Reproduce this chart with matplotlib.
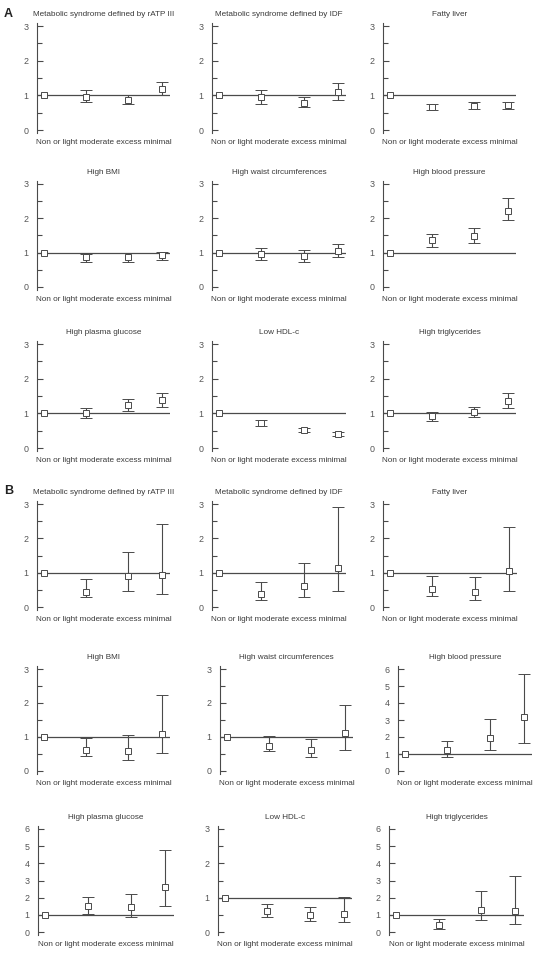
import numpy as np
import matplotlib.pyplot as plt
from matplotlib.ticker import MultipleLocator

plt.rcParams['font.family'] = ['Liberation Sans', 'DejaVu Sans']

categories = ["Non or light", "moderate", "excess", "minimal"]
titles = ["Metabolic syndrome defined by rATP III", "Metabolic syndrome defined by IDF",
          "Fatty liver", "High BMI", "High waist circumferences", "High blood pressure",
          "High plasma glucose", "Low HDL-c", "High triglycerides"]

# panel A: odds ratio and 95% CI, one row per outcome
a_or = [[1.0, 0.95, 0.87, 1.18], [1.0, 0.94, 0.77, 1.09], [1.0, 0.66, 0.69, 0.71],
        [1.0, 0.87, 0.87, 0.93], [1.0, 0.95, 0.90, 1.06], [1.0, 1.38, 1.49, 2.22],
        [1.0, 1.00, 1.24, 1.39], [1.0, 0.72, 0.52, 0.40], [1.0, 0.91, 1.03, 1.35]]
a_lo = [[1.0, 0.81, 0.74, 1.01], [1.0, 0.75, 0.66, 0.87], [1.0, 0.58, 0.60, 0.62],
        [1.0, 0.72, 0.73, 0.80], [1.0, 0.79, 0.73, 0.88], [1.0, 1.16, 1.28, 1.94],
        [1.0, 0.87, 1.08, 1.19], [1.0, 0.63, 0.45, 0.34], [1.0, 0.77, 0.88, 1.15]]
a_hi = [[1.0, 1.15, 1.00, 1.39], [1.0, 1.16, 0.96, 1.35], [1.0, 0.76, 0.80, 0.80],
        [1.0, 0.96, 0.98, 1.03], [1.0, 1.14, 1.08, 1.26], [1.0, 1.55, 1.71, 2.59],
        [1.0, 1.15, 1.41, 1.59], [1.0, 0.81, 0.59, 0.47], [1.0, 1.05, 1.18, 1.59]]

# panel B
b_or = [[1.0, 0.45, 0.89, 0.92], [1.0, 0.37, 0.62, 1.15], [1.0, 0.53, 0.44, 1.04],
        [1.0, 0.63, 0.59, 1.08], [1.0, 0.75, 0.62, 1.11], [1.0, 1.25, 1.94, 3.15],
        [1.0, 1.50, 1.46, 2.65], [1.0, 0.62, 0.50, 0.52], [1.0, 0.39, 1.31, 1.23]]
b_lo = [[1.0, 0.28, 0.48, 0.37], [1.0, 0.21, 0.30, 0.46], [1.0, 0.32, 0.21, 0.46],
        [1.0, 0.44, 0.31, 0.54], [1.0, 0.58, 0.41, 0.62], [1.0, 0.81, 1.23, 1.64],
        [1.0, 1.05, 0.90, 1.52], [1.0, 0.44, 0.33, 0.30], [1.0, 0.16, 0.70, 0.47]]
b_hi = [[1.0, 0.82, 1.61, 2.43], [1.0, 0.73, 1.28, 2.91], [1.0, 0.89, 0.88, 2.32],
        [1.0, 0.96, 1.06, 2.25], [1.0, 1.04, 0.95, 1.94], [1.0, 1.76, 3.07, 5.68],
        [1.0, 2.05, 2.22, 4.80], [1.0, 0.82, 0.72, 1.02], [1.0, 0.76, 2.36, 3.25]]
b_ymax = [3, 3, 3, 3, 3, 6, 6, 3, 6]

W, H = 551, 960
xpos = [0, 1, 2, 2.8]
line_c = '#4a4a4a'
text_c = '#3a3a3a'

# pixel layout: (spine x, line end x) per column, (tick top y, tick 0 y) per row
a_cols = [[(37, 170), (212, 346), (383, 516)]] * 3
a_rows = [(26, 130), (184, 287), (344, 448)]
b_cols = [[(37, 170), (212, 346), (383, 517)],
          [(37, 170), (220, 353), (398, 532)],
          [(38, 174), (218, 352), (389, 524)]]
b_rows = [(504, 607), (669, 771), (829, 932)]

fig = plt.figure(figsize=(W / 100, H / 100), dpi=100)


def panel(xl, xr, yt, y0, top, title, ors, los, his):
    pad = 0.03 * top
    ppu = (y0 - yt) / top
    bot_px = y0 + pad * ppu
    top_px = yt - pad * ppu
    ax = fig.add_axes([xl / W, 1 - bot_px / H, (xr - xl) / W, (bot_px - top_px) / H])
    ax.set_xlim(-0.16, 3.0)
    ax.set_ylim(-pad, top + pad)
    for s in ['top', 'right', 'bottom']:
        ax.spines[s].set_visible(False)
    ax.spines['left'].set_color(line_c)
    ax.spines['left'].set_linewidth(0.8)
    ax.set_xticks([])
    ax.yaxis.set_major_locator(MultipleLocator(1))
    if top == 3:
        ax.yaxis.set_minor_locator(MultipleLocator(0.5))
    ax.tick_params(axis='y', which='both', direction='in', color=line_c, width=0.8,
                   labelsize=6.4, labelcolor='#555555', pad=6)
    ax.tick_params(axis='y', which='major', length=4)
    ax.tick_params(axis='y', which='minor', length=3.5)
    ax.axhline(1, color=line_c, lw=0.9, zorder=1)
    ors = np.array(ors)
    yerr = np.vstack([ors - np.array(los), np.array(his) - ors])
    ax.errorbar(xpos, ors, yerr=yerr, fmt='s', ms=3.8, mfc='white', mec=line_c, mew=0.7,
                ecolor=line_c, elinewidth=0.8, capsize=4.5, capthick=0.8, zorder=3)
    ax.set_title(title, fontsize=5.9, color=text_c, pad=5)
    ax.set_xlabel(" ".join(categories), fontsize=5.9, color=text_c, labelpad=4.5)
    return ax


for i in range(9):
    r, c = divmod(i, 3)
    xl, xr = a_cols[r][c]
    yt, y0 = a_rows[r]
    panel(xl, xr, yt, y0, 3, titles[i], a_or[i], a_lo[i], a_hi[i])
    xl, xr = b_cols[r][c]
    yt, y0 = b_rows[r]
    panel(xl, xr, yt, y0, b_ymax[i], titles[i], b_or[i], b_lo[i], b_hi[i])

fig.text(4 / W, 1 - 14 / H, "A", fontsize=9, fontweight='bold', va='center', color='#222222')
fig.text(4 / W, 1 - 491 / H, "B", fontsize=9, fontweight='bold', va='center', color='#222222')

fig.savefig("out.png", dpi=100)
